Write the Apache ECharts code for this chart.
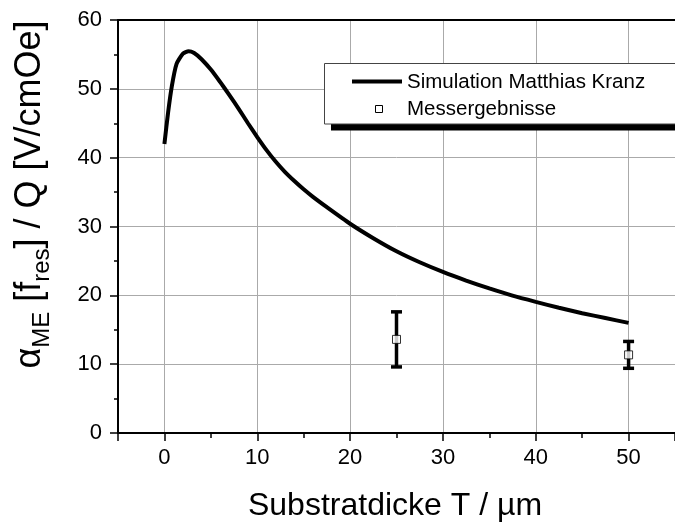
<!DOCTYPE html>
<html>
<head>
<meta charset="utf-8">
<script src="https://cdn.jsdelivr.net/npm/echarts@6/dist/echarts.min.js"></script>
<style>
  html, body { margin: 0; padding: 0; background: #fff; }
  #chart { width: 675px; height: 527px; }
</style>
</head>
<body>
<div id="chart"></div>
<script>
// simulation curve (Matthias Kranz)
const simX = [0, 0.4, 0.8, 1.3, 2, 2.6, 3.2, 4, 5, 6, 7, 8, 9, 10, 11, 12, 13, 14, 15, 16, 17.5, 20, 22.5, 25, 27.5, 30, 32.5, 35, 37.5, 40, 42.5, 45, 47.5, 50]
const simY = [42.0, 46.6, 50.4, 53.6, 55.1, 55.45, 55.2, 54.3, 52.8, 51.0, 49.1, 47.1, 45.0, 43.0, 41.1, 39.4, 37.9, 36.6, 35.4, 34.3, 32.8, 30.4, 28.3, 26.4, 24.8, 23.4, 22.15, 21.0, 19.95, 19.05, 18.2, 17.4, 16.7, 16.0]

// measurements with error bars
const measX = [25, 50]
const measY = [13.6, 11.35]
const measLow = [9.6, 9.4]
const measHigh = [17.6, 13.3]

const xTicks = [0, 10, 20, 30, 40, 50]

const font = 'Liberation Sans, Arial, sans-serif'
const chart = echarts.init(document.getElementById('chart'), null, { renderer: 'canvas' })

// vertical error bar with caps
function errorBar(params, api) {
  const x = api.value(0)
  const lo = api.coord([x, api.value(1)])
  const hi = api.coord([x, api.value(2)])
  const w = 5.5
  const style = { stroke: '#000', lineWidth: 3.5 }
  return {
    type: 'group',
    children: [
      { type: 'line', shape: { x1: lo[0], y1: lo[1], x2: hi[0], y2: hi[1] }, style },
      { type: 'line', shape: { x1: hi[0] - w, y1: hi[1], x2: hi[0] + w, y2: hi[1] }, style },
      { type: 'line', shape: { x1: lo[0] - w, y1: lo[1], x2: lo[0] + w, y2: lo[1] }, style },
    ],
  }
}

const axisLine = { show: true, onZero: false, lineStyle: { color: '#000', width: 2 } }

chart.setOption({
  animation: false,
  backgroundColor: '#fff',
  textStyle: { fontFamily: font, color: '#000' },
  grid: { left: 118, top: 20, right: -9, bottom: 91 },
  xAxis: [
    {
      type: 'value',
      min: -5,
      max: 55,
      axisLine,
      axisTick: { show: true, length: 8, lineStyle: { color: '#000', width: 1.5 } },
      minorTick: { show: true, splitNumber: 2, length: 5, lineStyle: { color: '#000', width: 1.5 } },
      axisLabel: {
        fontSize: 22,
        color: '#000',
        margin: 14,
        showMinLabel: false,
        showMaxLabel: false,
        formatter: v => (xTicks.includes(v) ? String(v) : ''),
      },
      splitLine: { show: true, lineStyle: { color: '#aaa', width: 1 } },
      name: 'Substratdicke T / µm',
      nameLocation: 'middle',
      nameGap: 57,
      nameTextStyle: { fontSize: 32, color: '#000', padding: [0, 3, 0, 0] },
    },
    {
      type: 'value',
      position: 'top',
      min: -5,
      max: 55,
      axisLine,
      axisTick: { show: false },
      axisLabel: { show: false },
      splitLine: { show: false },
    },
  ],
  yAxis: {
    type: 'value',
    min: 0,
    max: 60,
    interval: 10,
    axisLine,
    axisTick: { show: true, length: 8, lineStyle: { color: '#000', width: 1.5 } },
    minorTick: { show: true, splitNumber: 2, length: 4, lineStyle: { color: '#000', width: 1.5 } },
    axisLabel: { fontSize: 22, color: '#000', margin: 16 },
    splitLine: { show: true, lineStyle: { color: '#aaa', width: 1 } },
    name: '{m|α}{s|ME}{m| [f}{s|res}{m|] / Q [V/cmOe]}',
    nameLocation: 'middle',
    nameRotate: 90,
    nameGap: 64,
    nameTextStyle: {
      padding: [0, 0, 0, 64],
      rich: {
        m: { fontSize: 36, lineHeight: 48, fontFamily: font, color: '#000' },
        s: { fontSize: 24, lineHeight: 24, verticalAlign: 'bottom', fontFamily: font, color: '#000' },
      },
    },
  },
  series: [
    {
      name: 'Simulation Matthias Kranz',
      type: 'line',
      data: simX.map((x, i) => [x, simY[i]]),
      smooth: 0.2,
      showSymbol: false,
      lineStyle: { color: '#000', width: 4 },
      z: 3,
    },
    {
      name: 'Fehler',
      type: 'custom',
      renderItem: errorBar,
      data: measX.map((x, i) => [x, measLow[i], measHigh[i]]),
      z: 4,
    },
    {
      name: 'Messergebnisse',
      type: 'scatter',
      data: measX.map((x, i) => [x, measY[i]]),
      symbol: 'rect',
      symbolSize: 8,
      itemStyle: { color: '#fff', borderColor: '#000', borderWidth: 1 },
      z: 5,
    },
  ],
  graphic: [
    { type: 'rect', z: 10, shape: { x: 331, y: 70, width: 400, height: 60.5 }, style: { fill: '#000' } },
    { type: 'rect', z: 11, shape: { x: 324.5, y: 63.5, width: 400, height: 60.5 }, style: { fill: '#fff', stroke: '#444', lineWidth: 1 } },
    { type: 'line', z: 12, shape: { x1: 352, y1: 81.5, x2: 402, y2: 81.5 }, style: { stroke: '#000', lineWidth: 4 } },
    { type: 'text', z: 12, x: 407, y: 82, style: { text: 'Simulation Matthias Kranz', font: '20.5px ' + font, fill: '#000', verticalAlign: 'middle' } },
    { type: 'rect', z: 12, shape: { x: 375.5, y: 105.5, width: 7, height: 7 }, style: { fill: '#fff', stroke: '#000', lineWidth: 1 } },
    { type: 'text', z: 12, x: 407, y: 109, style: { text: 'Messergebnisse', font: '20.5px ' + font, fill: '#000', verticalAlign: 'middle' } },
  ],
})
</script>
</body>
</html>
